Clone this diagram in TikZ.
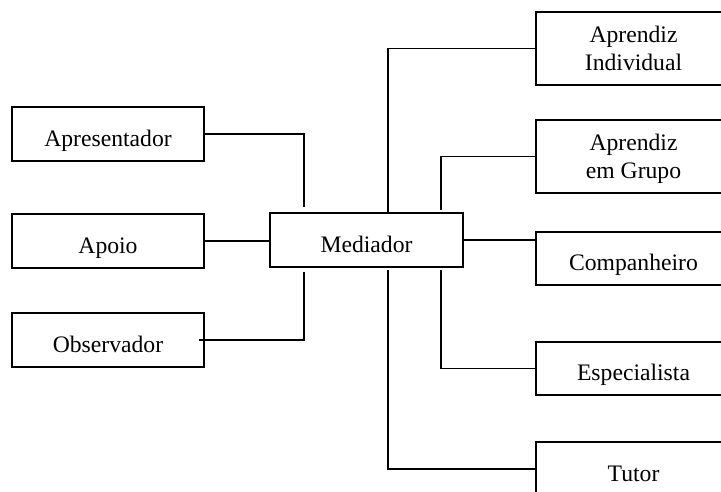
\documentclass[tikz,border=0pt]{standalone}
\usepackage{fontspec}
\setmainfont{Liberation Serif}
\usepackage{tikz}
\usetikzlibrary{calc}
\tikzset{
  rolebox/.style={draw,rectangle,line width=0.8pt,inner sep=0pt,align=center,
    text depth=7.8pt,font=\fontsize{12.3}{14.5}\selectfont},
  leftbox/.style={rolebox,minimum width=99.8pt,text height=20.3pt},
  rightbox/.style={rolebox,minimum width=101.4pt,text height=#1},
  link/.style={line width=0.8pt,draw=black}
}

\begin{document}
\begin{tikzpicture}[x=0.52pt,y=-0.52pt]
  \useasboundingbox (0,0) rectangle (721,491);
  \clip (0,0) rectangle (721,491);

  % central node
  \node[rolebox,minimum width=100.4pt,text height=20.3pt] (med) at (366.5,240) {Mediador};

  % left side
  \node[leftbox] (apr) at (108,134) {Apresentador};
  \node[leftbox] (apo) at (108,241) {Apoio};
  \node[leftbox] (obs) at (108,340) {Observador};

  % right side
  \node[rightbox=30.2pt] (ind) at (633.5,48.5) {Aprendiz\\Individual};
  \node[rightbox=30.2pt] (grp) at (633.5,156.5) {Aprendiz\\em Grupo};
  \node[rightbox=19.8pt] (comp) at (633.5,258.5) {Companheiro};
  \node[rightbox=19.8pt] (esp) at (633.5,368.5) {Especialista};
  \node[rightbox=20.3pt] (tut) at (633.5,469) {Tutor};

  % ends of the branches
  \coordinate (aprEnd) at (304,207);
  \coordinate (obsEnd) at (304,272);
  \coordinate (indEnd) at (388,213);
  \coordinate (grpEnd) at (441,210);
  \coordinate (espEnd) at (441,270);
  \coordinate (tutEnd) at (388,270);

  \draw[link] (apr.east) -| (aprEnd);
  \draw[link] (apo.east) -- (apo.east -| med.west);
  \draw[link,line width=1.2pt] (apo.east) -- ++(34,0);
  \draw[link] ($(obs.east)+(-6,0)$) -| (obsEnd);

  \draw[link] (ind.west) -| (indEnd);
  \draw[link] (grp.west) -| (grpEnd);
  \draw[link] (med.east) -- (med.east -| comp.west);
  \draw[link,line width=1.2pt] (med.east) -- ++(37,0);
  \draw[link] (esp.west) -| (espEnd);
  \draw[link] (tut.west) -| (tutEnd);
\end{tikzpicture}
\end{document}
